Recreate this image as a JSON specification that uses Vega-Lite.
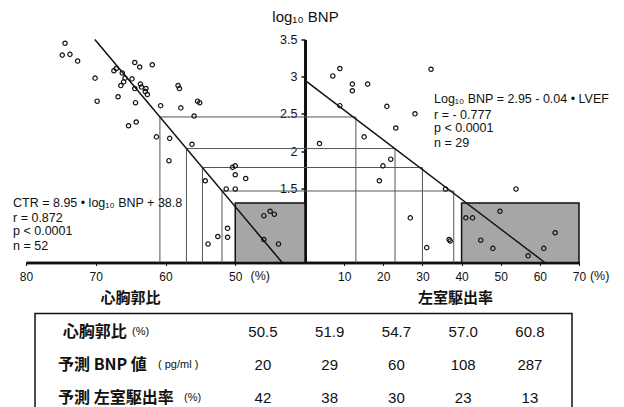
{
  "$schema": "https://vega.github.io/schema/vega-lite/v6.json",
  "width": 553,
  "height": 223,
  "padding": {"left": 13, "top": 9.5, "right": 5, "bottom": 5},
  "background": "white",
  "config": {
    "view": {"stroke": null},
    "font": "Liberation Sans",
    "axis": {"grid": false, "labelFont": "Liberation Sans", "labelColor": "#111", "domainColor": "#111", "tickColor": "#111"}
  },
  "resolve": {"scale": {"x": "independent", "y": "independent"}, "axis": {"x": "independent", "y": "independent"}},
  "layer": [
    {
      "data": {"values": [{"a": 50, "b": 40, "lo": 0.5, "hi": 1.301}]},
      "mark": {"type": "rect", "fill": "#a6a6a6", "stroke": "#111", "strokeWidth": 1.5},
      "encoding": {
        "x": {"field": "a", "type": "quantitative", "scale": {"domain": [0.717, 80], "reverse": true, "nice": false, "zero": false}, "axis": null},
        "x2": {"field": "b"},
        "y": {"field": "lo", "type": "quantitative", "scale": {"domain": [0.5, 3.5], "nice": false, "zero": false}, "axis": null},
        "y2": {"field": "hi"}
      }
    },
    {
      "data": {"values": [
        {"g": 1, "ctr": 51.9, "L": 0.5}, {"g": 1, "ctr": 51.9, "L": 1.462}, {"g": 1, "ctr": 40, "L": 1.462},
        {"g": 2, "ctr": 54.7, "L": 0.5}, {"g": 2, "ctr": 54.7, "L": 1.778}, {"g": 2, "ctr": 40, "L": 1.778},
        {"g": 3, "ctr": 57.0, "L": 0.5}, {"g": 3, "ctr": 57.0, "L": 2.033}, {"g": 3, "ctr": 40, "L": 2.033},
        {"g": 4, "ctr": 60.8, "L": 0.5}, {"g": 4, "ctr": 60.8, "L": 2.458}, {"g": 4, "ctr": 40, "L": 2.458}
      ]},
      "mark": {"type": "line", "color": "#555", "strokeWidth": 1},
      "encoding": {
        "x": {"field": "ctr", "type": "quantitative", "scale": {"domain": [0.717, 80], "reverse": true, "nice": false, "zero": false}, "axis": null},
        "y": {"field": "L", "type": "quantitative", "scale": {"domain": [0.5, 3.5], "nice": false, "zero": false}, "axis": null},
        "detail": {"field": "g", "type": "nominal"},
        "order": {"field": "ctr", "type": "quantitative", "sort": "descending"}
      }
    },
    {
      "data": {"values": [{"ctr": 70.13, "L": 3.5}, {"ctr": 43.28, "L": 0.5}]},
      "mark": {"type": "line", "color": "#111", "strokeWidth": 1.5},
      "encoding": {
        "x": {"field": "ctr", "type": "quantitative", "scale": {"domain": [0.717, 80], "reverse": true, "nice": false, "zero": false}, "axis": null},
        "y": {"field": "L", "type": "quantitative", "scale": {"domain": [0.5, 3.5], "nice": false, "zero": false}, "axis": null}
      }
    },
    {
      "data": {"values": [
        {"ctr": 74.4, "L": 3.45}, {"ctr": 74.8, "L": 3.29}, {"ctr": 73.7, "L": 3.30}, {"ctr": 72.6, "L": 3.21},
        {"ctr": 70.1, "L": 2.98}, {"ctr": 69.8, "L": 2.67}, {"ctr": 67.4, "L": 3.08}, {"ctr": 67.05, "L": 3.11},
        {"ctr": 66.2, "L": 3.05}, {"ctr": 65.8, "L": 2.98}, {"ctr": 66.0, "L": 2.93}, {"ctr": 66.4, "L": 2.88},
        {"ctr": 64.8, "L": 2.97}, {"ctr": 64.4, "L": 3.19}, {"ctr": 63.7, "L": 3.13}, {"ctr": 61.9, "L": 3.16},
        {"ctr": 63.6, "L": 2.90}, {"ctr": 63.45, "L": 2.86}, {"ctr": 64.4, "L": 2.84}, {"ctr": 62.8, "L": 2.84},
        {"ctr": 62.9, "L": 2.80}, {"ctr": 62.6, "L": 2.76}, {"ctr": 66.8, "L": 2.73}, {"ctr": 64.3, "L": 2.65},
        {"ctr": 60.7, "L": 2.61}, {"ctr": 58.2, "L": 2.88}, {"ctr": 58.0, "L": 2.84}, {"ctr": 57.8, "L": 2.58},
        {"ctr": 55.4, "L": 2.67}, {"ctr": 55.1, "L": 2.65}, {"ctr": 55.9, "L": 2.47}, {"ctr": 64.2, "L": 2.39},
        {"ctr": 65.3, "L": 2.34}, {"ctr": 61.3, "L": 2.19}, {"ctr": 59.4, "L": 2.17}, {"ctr": 56.2, "L": 2.09},
        {"ctr": 59.5, "L": 1.87}, {"ctr": 50.4, "L": 1.78}, {"ctr": 50.0, "L": 1.80}, {"ctr": 50.0, "L": 1.68},
        {"ctr": 48.5, "L": 1.63}, {"ctr": 54.3, "L": 1.60}, {"ctr": 51.3, "L": 1.49}, {"ctr": 50.0, "L": 1.49},
        {"ctr": 45.9, "L": 1.13}, {"ctr": 45.0, "L": 1.19}, {"ctr": 44.4, "L": 1.15}, {"ctr": 51.1, "L": 0.96},
        {"ctr": 52.5, "L": 0.85}, {"ctr": 51.1, "L": 0.84}, {"ctr": 53.9, "L": 0.75}, {"ctr": 45.9, "L": 0.81},
        {"ctr": 43.8, "L": 0.75}
      ]},
      "mark": {"type": "point", "shape": "circle", "filled": false, "size": 19, "color": "#111", "strokeWidth": 1.2, "opacity": 1},
      "encoding": {
        "x": {
          "field": "ctr", "type": "quantitative",
          "scale": {"domain": [0.717, 80], "reverse": true, "nice": false, "zero": false},
          "axis": {
            "orient": "bottom", "values": [80, 70, 60, 50], "domainWidth": 2.5, "tickSize": 3, "tickWidth": 1,
            "labelFontSize": 12, "labelPadding": 6, "labelFlush": false,
            "title": "心胸郭比", "titleFont": "Noto Sans CJK JP", "titleFontSize": 15, "titleFontWeight": "bold",
            "titleX": 104, "titleY": 35, "titleAlign": "center", "titleBaseline": "middle", "titleColor": "#111"
          }
        },
        "y": {"field": "L", "type": "quantitative", "scale": {"domain": [0.5, 3.5], "nice": false, "zero": false}, "axis": null}
      }
    },
    {
      "data": {"values": [
        {"t": "CTR = 8.95 • log₁₀ BNP + 38.8", "ctr": 81.86, "L": 1.303},
        {"t": "r = 0.872", "ctr": 81.86, "L": 1.096},
        {"t": "p < 0.0001", "ctr": 81.86, "L": 0.921},
        {"t": "n = 52", "ctr": 81.86, "L": 0.719},
        {"t": "(%)", "ctr": 47.8, "L": 0.312}
      ]},
      "mark": {"type": "text", "align": "left", "baseline": "middle", "fontSize": 12.5, "color": "#111"},
      "encoding": {
        "x": {"field": "ctr", "type": "quantitative", "scale": {"domain": [0.717, 80], "reverse": true, "nice": false, "zero": false}, "axis": null},
        "y": {"field": "L", "type": "quantitative", "scale": {"domain": [0.5, 3.5], "nice": false, "zero": false}, "axis": null},
        "text": {"field": "t"}
      }
    },
    {
      "data": {"values": [{"a": 40, "b": 70, "lo": 0.5, "hi": 1.301}]},
      "mark": {"type": "rect", "fill": "#a6a6a6", "stroke": "#111", "strokeWidth": 1.5},
      "encoding": {
        "x": {"field": "a", "type": "quantitative", "scale": {"domain": [-71.28, 70], "nice": false, "zero": false}, "axis": null},
        "x2": {"field": "b"},
        "y": {"field": "lo", "type": "quantitative", "scale": {"domain": [0.5, 3.5], "nice": false, "zero": false}, "axis": null},
        "y2": {"field": "hi"}
      }
    },
    {
      "data": {"values": [
        {"g": 1, "ef": 38, "L": 0.5}, {"g": 1, "ef": 38, "L": 1.462}, {"g": 1, "ef": 0, "L": 1.462},
        {"g": 2, "ef": 30, "L": 0.5}, {"g": 2, "ef": 30, "L": 1.778}, {"g": 2, "ef": 0, "L": 1.778},
        {"g": 3, "ef": 23, "L": 0.5}, {"g": 3, "ef": 23, "L": 2.033}, {"g": 3, "ef": 0, "L": 2.033},
        {"g": 4, "ef": 13, "L": 0.5}, {"g": 4, "ef": 13, "L": 2.458}, {"g": 4, "ef": 0, "L": 2.458}
      ]},
      "mark": {"type": "line", "color": "#555", "strokeWidth": 1},
      "encoding": {
        "x": {"field": "ef", "type": "quantitative", "scale": {"domain": [-71.28, 70], "nice": false, "zero": false}, "axis": null},
        "y": {"field": "L", "type": "quantitative", "scale": {"domain": [0.5, 3.5], "nice": false, "zero": false}, "axis": null},
        "detail": {"field": "g", "type": "nominal"},
        "order": {"field": "ef", "type": "quantitative", "sort": "descending"}
      }
    },
    {
      "data": {"values": [{"ef": 0, "L": 2.95}, {"ef": 61.25, "L": 0.5}]},
      "mark": {"type": "line", "color": "#111", "strokeWidth": 1.5},
      "encoding": {
        "x": {"field": "ef", "type": "quantitative", "scale": {"domain": [-71.28, 70], "nice": false, "zero": false}, "axis": null},
        "y": {"field": "L", "type": "quantitative", "scale": {"domain": [0.5, 3.5], "nice": false, "zero": false}, "axis": null}
      }
    },
    {
      "data": {"values": [
        {"ef": 8.9, "L": 3.11}, {"ef": 7.1, "L": 3.01}, {"ef": 12.1, "L": 2.90}, {"ef": 12.1, "L": 2.81},
        {"ef": 16.0, "L": 2.90}, {"ef": 32.2, "L": 3.10}, {"ef": 8.9, "L": 2.61}, {"ef": 20.9, "L": 2.60},
        {"ef": 28.1, "L": 2.50}, {"ef": 23.2, "L": 2.31}, {"ef": 15.1, "L": 2.19}, {"ef": 3.7, "L": 2.10},
        {"ef": 21.9, "L": 1.89}, {"ef": 19.9, "L": 1.80}, {"ef": 19.0, "L": 1.60}, {"ef": 35.9, "L": 1.49},
        {"ef": 53.9, "L": 1.49}, {"ef": 49.8, "L": 1.19}, {"ef": 26.9, "L": 1.10}, {"ef": 41.1, "L": 1.10},
        {"ef": 42.8, "L": 1.10}, {"ef": 63.9, "L": 0.90}, {"ef": 36.8, "L": 0.81}, {"ef": 37.1, "L": 0.79},
        {"ef": 44.9, "L": 0.80}, {"ef": 31.1, "L": 0.70}, {"ef": 48.0, "L": 0.69}, {"ef": 61.0, "L": 0.69},
        {"ef": 57.0, "L": 0.59}
      ]},
      "mark": {"type": "point", "shape": "circle", "filled": false, "size": 19, "color": "#111", "strokeWidth": 1.2, "opacity": 1},
      "encoding": {
        "x": {
          "field": "ef", "type": "quantitative",
          "scale": {"domain": [-71.28, 70], "nice": false, "zero": false},
          "axis": {
            "orient": "bottom", "values": [10, 20, 30, 40, 50, 60, 70], "domainWidth": 2.5, "tickSize": 3, "tickWidth": 1,
            "labelFontSize": 12, "labelPadding": 6, "labelFlush": false,
            "title": "左室駆出率", "titleFont": "Noto Sans CJK JP", "titleFontSize": 15, "titleFontWeight": "bold",
            "titleX": 429, "titleY": 35, "titleAlign": "center", "titleBaseline": "middle", "titleColor": "#111"
          }
        },
        "y": {
          "field": "L", "type": "quantitative",
          "scale": {"domain": [0.5, 3.5], "nice": false, "zero": false},
          "axis": {
            "orient": "left", "offset": -279, "values": [1, 1.5, 2, 2.5, 3, 3.5], "format": "~g",
            "domainWidth": 3, "tickSize": 4, "tickWidth": 1.5, "labelFontSize": 12.5, "labelPadding": 4,
            "title": "log₁₀ BNP", "titleAngle": 0, "titleX": 0, "titleY": -23, "titleAlign": "center",
            "titleBaseline": "middle", "titleFontSize": 15, "titleFontWeight": "normal", "titleFont": "Liberation Sans", "titleColor": "#111"
          }
        }
      }
    },
    {
      "data": {"values": [
        {"t": "Log₁₀ BNP = 2.95 - 0.04 • LVEF", "ef": 32.96, "L": 2.693},
        {"t": "r = - 0.777", "ef": 32.96, "L": 2.49},
        {"t": "p < 0.0001", "ef": 32.96, "L": 2.316},
        {"t": "n = 29", "ef": 32.96, "L": 2.114},
        {"t": "(%)", "ef": 72.8, "L": 0.312}
      ]},
      "mark": {"type": "text", "align": "left", "baseline": "middle", "fontSize": 12.5, "color": "#111"},
      "encoding": {
        "x": {"field": "ef", "type": "quantitative", "scale": {"domain": [-71.28, 70], "nice": false, "zero": false}, "axis": null},
        "y": {"field": "L", "type": "quantitative", "scale": {"domain": [0.5, 3.5], "nice": false, "zero": false}, "axis": null},
        "text": {"field": "t"}
      }
    },
    {
      "data": {"values": [{"x1": -3.415, "x2": 4.63, "y1": -0.576, "y2": 3.3}]},
      "mark": {"type": "rect", "fillOpacity": 0, "stroke": "#111", "strokeWidth": 1.5},
      "encoding": {
        "x": {"field": "x1", "type": "quantitative", "scale": {"domain": [-3.55, 4.735], "nice": false, "zero": false}, "axis": null},
        "x2": {"field": "x2"},
        "y": {"field": "y1", "type": "quantitative", "scale": {"domain": [-8.879, -2.121], "reverse": true, "nice": false, "zero": false}, "axis": null},
        "y2": {"field": "y2"}
      }
    },
    {
      "data": {"values": [
        {"row": 0, "col": 0, "v": "50.5"}, {"row": 0, "col": 1, "v": "51.9"}, {"row": 0, "col": 2, "v": "54.7"}, {"row": 0, "col": 3, "v": "57.0"}, {"row": 0, "col": 4, "v": "60.8"},
        {"row": 1, "col": 0, "v": "20"}, {"row": 1, "col": 1, "v": "29"}, {"row": 1, "col": 2, "v": "60"}, {"row": 1, "col": 3, "v": "108"}, {"row": 1, "col": 4, "v": "287"},
        {"row": 2, "col": 0, "v": "42"}, {"row": 2, "col": 1, "v": "38"}, {"row": 2, "col": 2, "v": "30"}, {"row": 2, "col": 3, "v": "23"}, {"row": 2, "col": 4, "v": "13"}
      ]},
      "mark": {"type": "text", "align": "center", "baseline": "middle", "fontSize": 15, "color": "#111"},
      "encoding": {
        "x": {"field": "col", "type": "quantitative", "scale": {"domain": [-3.55, 4.735], "nice": false, "zero": false}, "axis": null},
        "y": {"field": "row", "type": "quantitative", "scale": {"domain": [-8.879, -2.121], "reverse": true, "nice": false, "zero": false}, "axis": null},
        "text": {"field": "v"}
      }
    },
    {
      "data": {"values": [
        {"row": 0, "col": -3.0, "label": "心胸郭比"},
        {"row": 1, "col": -3.07, "label": "予測 BNP 値"},
        {"row": 2, "col": -3.07, "label": "予測 左室駆出率"}
      ]},
      "mark": {"type": "text", "align": "left", "baseline": "middle", "fontSize": 16, "font": "Noto Sans CJK JP", "fontWeight": "bold", "color": "#111"},
      "encoding": {
        "x": {"field": "col", "type": "quantitative", "scale": {"domain": [-3.55, 4.735], "nice": false, "zero": false}, "axis": null},
        "y": {"field": "row", "type": "quantitative", "scale": {"domain": [-8.879, -2.121], "reverse": true, "nice": false, "zero": false}, "axis": null},
        "text": {"field": "label"}
      }
    },
    {
      "data": {"values": [
        {"row": 0, "col": -1.962, "u": "(%)"},
        {"row": 1, "col": -1.572, "u": "( pg/ml )"},
        {"row": 2, "col": -1.183, "u": "(%)"}
      ]},
      "mark": {"type": "text", "align": "left", "baseline": "middle", "fontSize": 11, "color": "#111"},
      "encoding": {
        "x": {"field": "col", "type": "quantitative", "scale": {"domain": [-3.55, 4.735], "nice": false, "zero": false}, "axis": null},
        "y": {"field": "row", "type": "quantitative", "scale": {"domain": [-8.879, -2.121], "reverse": true, "nice": false, "zero": false}, "axis": null},
        "text": {"field": "u"}
      }
    }
  ]
}
